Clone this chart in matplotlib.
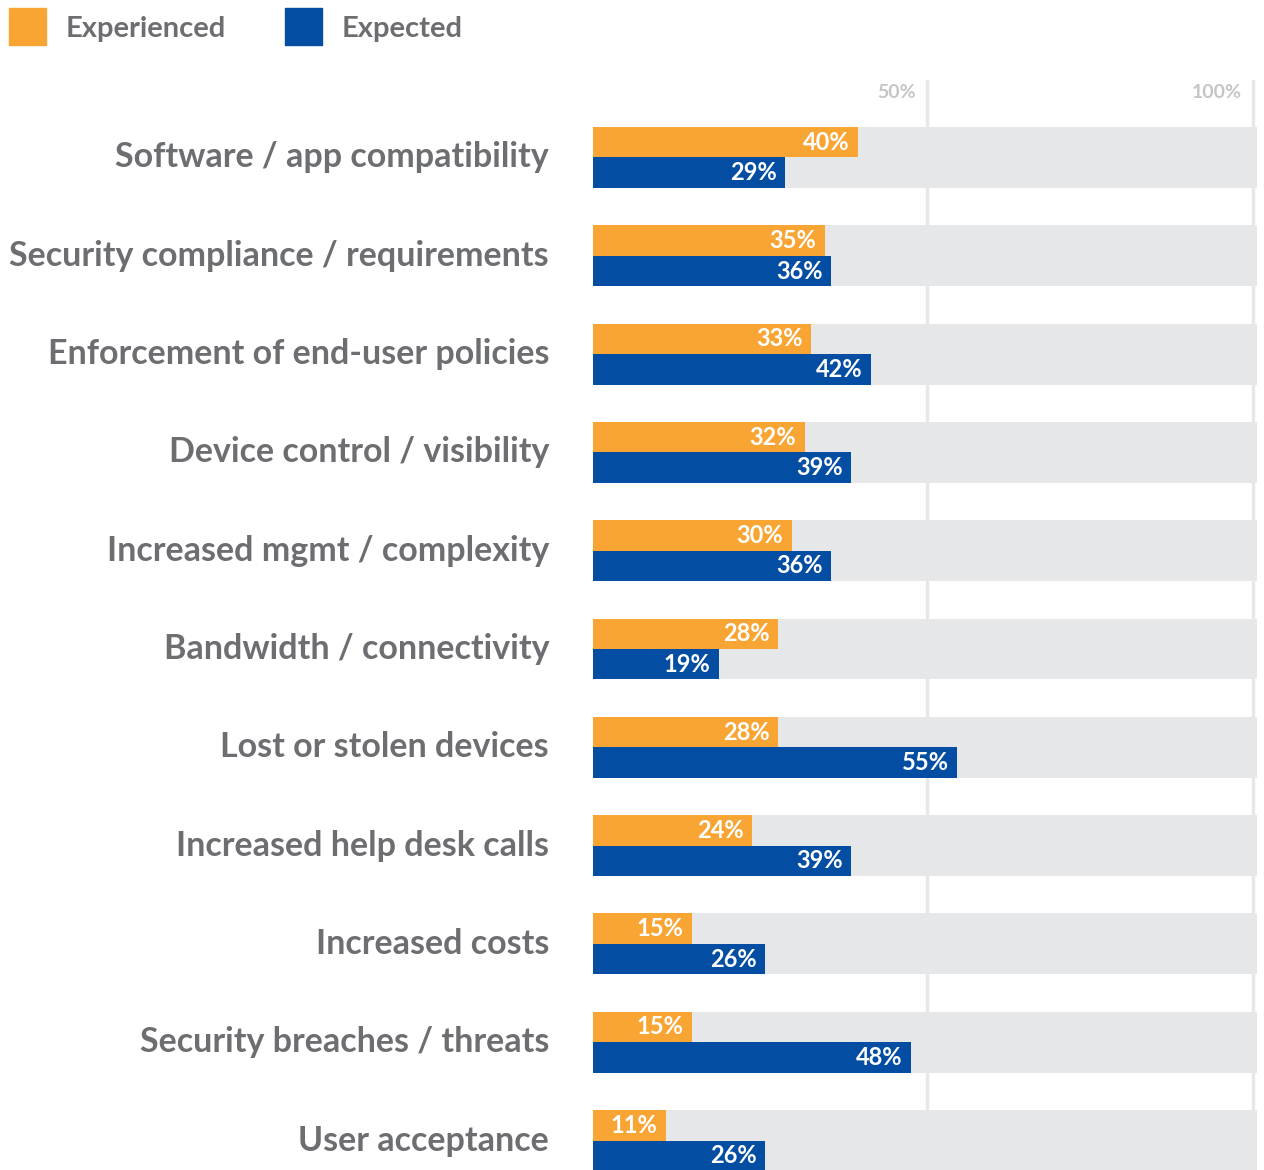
import matplotlib.pyplot as plt
from matplotlib.patches import Rectangle

# Data
categories = [
    "Software / app compatibility",
    "Security compliance / requirements",
    "Enforcement of end-user policies",
    "Device control / visibility",
    "Increased mgmt / complexity",
    "Bandwidth / connectivity",
    "Lost or stolen devices",
    "Increased help desk calls",
    "Increased costs",
    "Security breaches / threats",
    "User acceptance",
]
experienced = [40, 35, 33, 32, 30, 28, 28, 24, 15, 15, 11]
expected = [29, 36, 42, 39, 36, 19, 55, 39, 26, 48, 26]
series_names = ["Experienced", "Expected"]
grid_ticks = [50, 100]

orange = "#f9a533"
blue = "#034ea2"
band = "#e6e7e8"
text_grey = "#6d6e71"
light_grey = "#c4c5c7"
font = "Lato"

W, H = 1264, 1170
fig = plt.figure(figsize=(W / 100, H / 100), dpi=100)
ax = fig.add_axes([593 / W, 0, (1257 - 593) / W, (1170 - 80) / H])
ax.set_xlim(0, 100.3)
ax.set_ylim(10.30, -0.788)
ax.axis("off")

half = 0.31
for i, cat in enumerate(categories):
    ax.add_patch(Rectangle((0, i - half), 100.3, 2 * half, color=band, zorder=1, lw=0))
    ax.barh(i - half / 2, experienced[i], height=half, color=orange, zorder=3, lw=0)
    ax.barh(i + half / 2, expected[i], height=half, color=blue, zorder=3, lw=0)
    ax.text(experienced[i] - 1.3, i - half / 2, f"{experienced[i]}%", ha="right", va="center",
            color="white", fontsize=17, fontweight="bold", family=font, zorder=4)
    ax.text(expected[i] - 1.3, i + half / 2, f"{expected[i]}%", ha="right", va="center",
            color="white", fontsize=17, fontweight="bold", family=font, zorder=4)
    ax.annotate(cat, xy=(0, i), xycoords="data", xytext=(-44 * 0.72, 0), textcoords="offset points",
                ha="right", va="center", color=text_grey, fontsize=24.5, fontweight="bold", family=font)

# gridlines
for g in grid_ticks:
    xg = g - 0.3 if g == 100 else g + 0.4
    ax.axvline(xg, color=band, lw=2.4, zorder=0)
    ax.annotate(f"{g}%", xy=(xg, -0.788), xycoords="data", xytext=(-8, -9), textcoords="offset points",
                ha="right", va="center", color=light_grey, fontsize=14, fontweight="bold", family=font)

# legend
lx = [9, 285]
for k, name in enumerate(series_names):
    fig.patches.append(Rectangle((lx[k] / W, 1 - 45 / H), 37 / W, 37 / H, color=[orange, blue][k],
                                 transform=fig.transFigure, figure=fig))
    fig.text((lx[k] + 57) / W, 1 - 29 / H, name, ha="left", va="center", color=text_grey,
             fontsize=21, fontweight="bold", family=font)

fig.savefig("out.png", dpi=100)
